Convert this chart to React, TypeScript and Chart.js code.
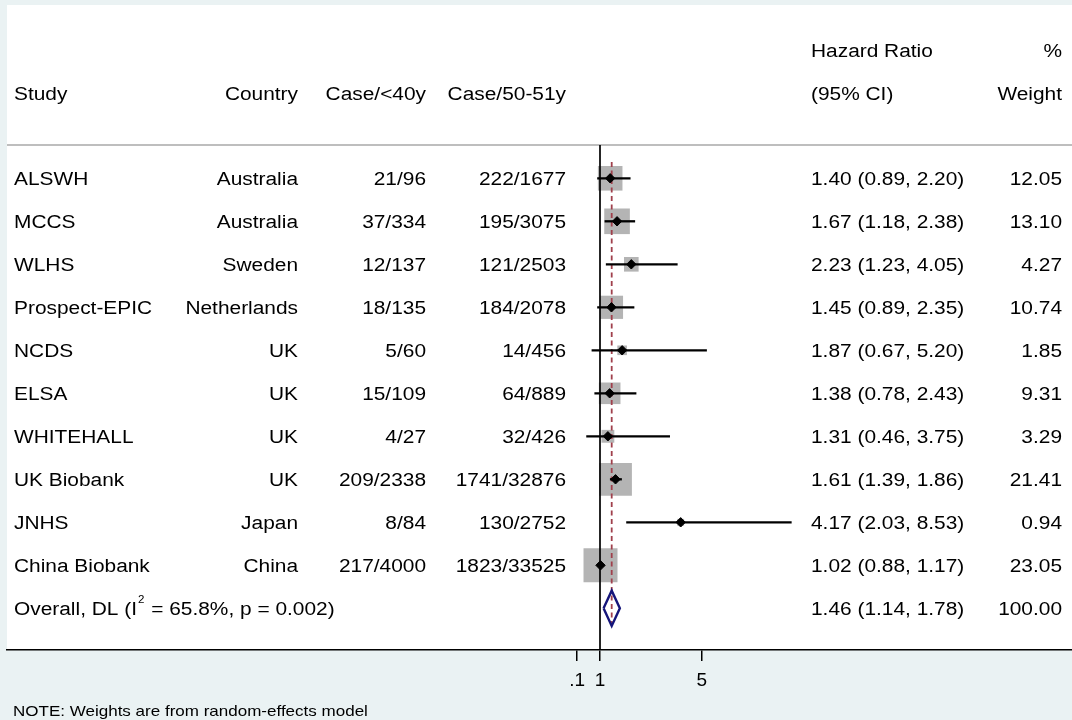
import React, { useEffect, useRef } from "react";
import { Chart, registerables } from "chart.js";

Chart.register(...registerables);

// ---- data ----
const studies = ["ALSWH", "MCCS", "WLHS", "Prospect-EPIC", "NCDS", "ELSA", "WHITEHALL", "UK Biobank", "JNHS", "China Biobank"];
const countries = ["Australia", "Australia", "Sweden", "Netherlands", "UK", "UK", "UK", "UK", "Japan", "China"];
const case40 = ["21/96", "37/334", "12/137", "18/135", "5/60", "15/109", "4/27", "209/2338", "8/84", "217/4000"];
const case50 = ["222/1677", "195/3075", "121/2503", "184/2078", "14/456", "64/889", "32/426", "1741/32876", "130/2752", "1823/33525"];
const hr = [1.4, 1.67, 2.23, 1.45, 1.87, 1.38, 1.31, 1.61, 4.17, 1.02];
const ciLow = [0.89, 1.18, 1.23, 0.89, 0.67, 0.78, 0.46, 1.39, 2.03, 0.88];
const ciHigh = [2.2, 2.38, 4.05, 2.35, 5.2, 2.43, 3.75, 1.86, 8.53, 1.17];
const weights = [12.05, 13.1, 4.27, 10.74, 1.85, 9.31, 3.29, 21.41, 0.94, 23.05];
const overallEst = 1.46;
const overallLow = 1.14;
const overallHigh = 1.78;
const overallWeight = 100.0;
const overallLabelA = "Overall, DL (I";
const overallLabelSup = "2";
const overallLabelB = " = 65.8%, p = 0.002)";
const xTickValues = [0.1, 1, 5];
const xTickLabels = [".1", "1", "5"];
const headerRow1 = { hr: "Hazard Ratio", w: "%" };
const headerRow2 = { study: "Study", country: "Country", c40: "Case/<40y", c50: "Case/50-51y", hr: "(95% CI)", w: "Weight" };
const noteText = "NOTE: Weights are from random-effects model";

// ---- layout / style constants ----
const W = 1072;
const H = 720;
const FONT = '"Liberation Sans", Arial, Helvetica, sans-serif';
const FS = 18;
const SX = 1.16;
const PAD_LEFT = 7;
const PAD_TOP = 5;
const AXIS_H = 70;
const PX_PER_UNIT = 25.45;
const X_AT_ONE = 600;
const xMin = 1 - (X_AT_ONE - PAD_LEFT) / PX_PER_UNIT;
const xMax = xMin + (W - PAD_LEFT) / PX_PER_UNIT;
const ROW_PX = 43;
const yMin = 1 - (178.3 - PAD_TOP) / ROW_PX;
const yMax = yMin + (H - AXIS_H - PAD_TOP) / ROW_PX;
const SEP_ROW = yMin + (145 - PAD_TOP) / ROW_PX;
const BOX_K = 7.08;
const BG = "#eaf2f3";
const NAVY = "#15157a";
const MAROON = "#a0404c";

const COL = { study: 14, country: 298, c40: 426, c50: 566, hr: 811, w: 1062 };

function drawText(ctx: CanvasRenderingContext2D, text: string, x: number, y: number, align: "left" | "right", size = FS, sx = SX) {
  ctx.save();
  ctx.font = `${size}px ${FONT}`;
  ctx.fillStyle = "#000";
  ctx.textAlign = "left";
  ctx.textBaseline = "alphabetic";
  const w = ctx.measureText(text).width * sx;
  const x0 = align === "right" ? x - w : x;
  ctx.translate(x0, y + size * 0.358);
  ctx.scale(sx, 1);
  ctx.fillText(text, 0, 0);
  ctx.restore();
  return w;
}

const bgPlugin = {
  id: "bgPlugin",
  beforeDraw(chart: any) {
    const { ctx, chartArea } = chart;
    ctx.save();
    ctx.fillStyle = BG;
    ctx.fillRect(0, 0, chart.width, chart.height);
    ctx.fillStyle = "#fff";
    ctx.fillRect(chartArea.left, chartArea.top, chartArea.right - chartArea.left, chartArea.bottom - chartArea.top);
    const y = chart.scales.y.getPixelForValue(SEP_ROW);
    ctx.strokeStyle = "#a8a8a8";
    ctx.lineWidth = 1.5;
    ctx.beginPath();
    ctx.moveTo(chartArea.left, y);
    ctx.lineTo(chartArea.right, y);
    ctx.stroke();
    ctx.restore();
  },
};

const textPlugin = {
  id: "textPlugin",
  afterDraw(chart: any) {
    const ctx = chart.ctx as CanvasRenderingContext2D;
    const ys = chart.scales.y;
    const r1 = ys.getPixelForValue(-1.97);
    const r2 = ys.getPixelForValue(-0.97);
    drawText(ctx, headerRow1.hr, COL.hr, r1, "left");
    drawText(ctx, headerRow1.w, COL.w, r1, "right");
    drawText(ctx, headerRow2.study, COL.study, r2, "left");
    drawText(ctx, headerRow2.country, COL.country, r2, "right");
    drawText(ctx, headerRow2.c40, COL.c40, r2, "right");
    drawText(ctx, headerRow2.c50, COL.c50, r2, "right");
    drawText(ctx, headerRow2.hr, COL.hr, r2, "left");
    drawText(ctx, headerRow2.w, COL.w, r2, "right");
    studies.forEach((s, i) => {
      const y = ys.getPixelForValue(i + 1);
      drawText(ctx, s, COL.study, y, "left");
      drawText(ctx, countries[i], COL.country, y, "right");
      drawText(ctx, case40[i], COL.c40, y, "right");
      drawText(ctx, case50[i], COL.c50, y, "right");
      drawText(ctx, `${hr[i].toFixed(2)} (${ciLow[i].toFixed(2)}, ${ciHigh[i].toFixed(2)})`, COL.hr, y, "left");
      drawText(ctx, weights[i].toFixed(2), COL.w, y, "right");
    });
    const yo = ys.getPixelForValue(studies.length + 1);
    let x = COL.study;
    x += drawText(ctx, overallLabelA, x, yo, "left");
    x += 1;
    x += drawText(ctx, overallLabelSup, x, yo - 9, "left", 10.5, 1.1);
    x += 1;
    drawText(ctx, overallLabelB, x, yo, "left");
    drawText(ctx, `${overallEst.toFixed(2)} (${overallLow.toFixed(2)}, ${overallHigh.toFixed(2)})`, COL.hr, yo, "left");
    drawText(ctx, overallWeight.toFixed(2), COL.w, yo, "right");
    drawText(ctx, noteText, 13, 711, "left", 14.3, 1.19);
  },
};

export default function App() {
  const ref = useRef<HTMLCanvasElement | null>(null);

  useEffect(() => {
    document.body.style.margin = "0";
    document.body.style.background = BG;
    const canvas = ref.current;
    if (!canvas) return;
    const rows = studies.map((_, i) => i + 1);
    const oRow = studies.length + 1;

    const ciSets = studies.map((_, i) => ({
      showLine: true,
      data: [
        { x: ciLow[i], y: rows[i] },
        { x: ciHigh[i], y: rows[i] },
      ],
      borderColor: "#000",
      borderWidth: 2.3,
      pointRadius: 0,
      order: 3,
    }));

    const chart = new Chart(canvas, {
      type: "scatter",
      data: {
        datasets: [
          {
            data: hr.map((v, i) => ({ x: v, y: rows[i] })),
            pointStyle: "rect",
            pointRadius: (c: any) => (BOX_K * Math.sqrt(weights[c.dataIndex] ?? 0)) / Math.SQRT2,
            backgroundColor: "#b4b4b4",
            borderWidth: 0,
            order: 6,
          } as any,
          {
            showLine: true,
            data: [
              { x: 1, y: SEP_ROW },
              { x: 1, y: yMax },
            ],
            borderColor: "#000",
            borderWidth: 1.7,
            pointRadius: 0,
            order: 5,
          },
          {
            showLine: true,
            data: [
              { x: overallEst, y: 0.62 },
              { x: overallEst, y: oRow + 0.46 },
            ],
            borderColor: MAROON,
            borderWidth: 1.8,
            borderDash: [5, 3.5],
            pointRadius: 0,
            order: 4,
          },
          ...ciSets,
          {
            data: hr.map((v, i) => ({ x: v, y: rows[i] })),
            pointStyle: "rectRot",
            pointRadius: 4.7,
            backgroundColor: "#000",
            borderColor: "#000",
            borderWidth: 1,
            order: 2,
          },
          {
            showLine: true,
            data: [
              { x: overallLow, y: oRow },
              { x: overallEst, y: oRow - 0.41 },
              { x: overallHigh, y: oRow },
              { x: overallEst, y: oRow + 0.41 },
              { x: overallLow, y: oRow },
            ],
            borderColor: NAVY,
            borderWidth: 2.4,
            borderJoinStyle: "miter",
            pointRadius: 0,
            fill: false,
            order: 1,
          } as any,
        ],
      },
      options: {
        responsive: false,
        animation: false,
        events: [],
        devicePixelRatio: 1,
        layout: { autoPadding: false, padding: { left: PAD_LEFT, top: PAD_TOP, right: 0, bottom: 0 } },
        plugins: { legend: { display: false }, tooltip: { enabled: false } },
        scales: {
          x: {
            type: "linear",
            position: "bottom",
            min: xMin,
            max: xMax,
            afterBuildTicks: (s: any) => {
              s.ticks = xTickValues.map((v) => ({ value: v }));
            },
            afterFit: (s: any) => {
              s.height = AXIS_H;
            },
            grid: { drawOnChartArea: false, drawTicks: true, tickLength: 11, color: "#000", lineWidth: 1.5 },
            border: { display: true, color: "#000", width: 1.5 },
            ticks: {
              color: "#000",
              font: { family: FONT, size: 19 },
              padding: 8,
              maxRotation: 0,
              autoSkip: false,
              callback: (_v: any, i: number) => xTickLabels[i],
            },
          },
          y: {
            type: "linear",
            display: false,
            reverse: true,
            min: yMin,
            max: yMax,
          },
        },
      },
      plugins: [bgPlugin, textPlugin],
    } as any);
    return () => chart.destroy();
  }, []);

  return (
    <div style={{ width: W, height: H, background: BG }}>
      <canvas ref={ref} width={W} height={H} style={{ display: "block", width: W, height: H }} />
    </div>
  );
}
